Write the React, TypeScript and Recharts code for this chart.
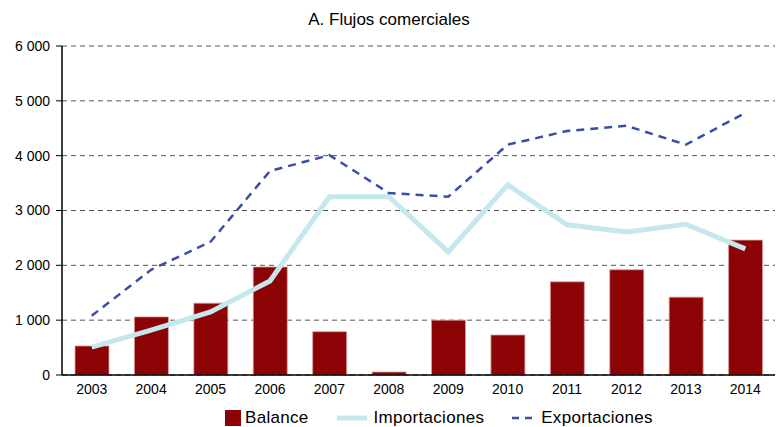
import { ComposedChart, Bar, Line, XAxis, YAxis, CartesianGrid } from 'recharts';

const years = ['2003', '2004', '2005', '2006', '2007', '2008', '2009', '2010', '2011', '2012', '2013', '2014'];
const balance = [530, 1060, 1310, 1970, 790, 55, 1000, 730, 1700, 1920, 1420, 2460];
const importaciones = [510, 820, 1150, 1715, 3250, 3250, 2245, 3470, 2740, 2610, 2750, 2300];
const exportaciones = [1080, 1920, 2430, 3720, 4010, 3320, 3250, 4200, 4450, 4545, 4200, 4780];
const yTicks = [0, 1000, 2000, 3000, 4000, 5000, 6000];

const data = years.map((year, i) => ({
  year,
  balance: balance[i],
  importaciones: importaciones[i],
  exportaciones: exportaciones[i],
}));

const font = '"Liberation Sans", Arial, sans-serif';
const fmt = (v: number) => (v >= 1000 ? `${Math.floor(v / 1000)} ${String(v % 1000).padStart(3, '0')}` : String(v));

export default function App() {
  return (
    <div style={{ position: 'absolute', left: 0, top: 0, width: 778, height: 427, background: '#fff', fontFamily: font }}>
      <div style={{ position: 'absolute', top: 10, left: 0, width: 778, textAlign: 'center', fontSize: 17, color: '#000' }}>
        A. Flujos comerciales
      </div>
      <ComposedChart width={778} height={427} data={data} margin={{ top: 46, right: 3, left: 0, bottom: 22 }}>
        <CartesianGrid vertical={false} stroke="#555" strokeDasharray="5 4" />
        <XAxis
          dataKey="year"
          tickLine={false}
          axisLine={{ stroke: '#000', strokeWidth: 1.5 }}
          tick={{ fill: '#000', fontSize: 14, fontFamily: font }}
          tickMargin={3}
          height={30}
        />
        <YAxis
          domain={[0, 6000]}
          ticks={yTicks}
          tickFormatter={fmt}
          width={62}
          tickSize={6}
          tickMargin={6}
          axisLine={{ stroke: '#000', strokeWidth: 1.5 }}
          tickLine={{ stroke: '#000' }}
          tick={{ fill: '#000', fontSize: 14, fontFamily: font }}
        />
        <Bar dataKey="balance" fill="#8b0304" stroke="#d9a0a0" strokeWidth={0.8} barSize={34} isAnimationActive={false} />
        <Line dataKey="importaciones" type="linear" stroke="#c5e7ee" strokeWidth={5} dot={false} isAnimationActive={false} />
        <Line dataKey="exportaciones" type="linear" stroke="#3a4ea8" strokeWidth={2.5} strokeDasharray="8 6" dot={false} isAnimationActive={false} />
      </ComposedChart>
      <div style={{ position: 'absolute', top: 409, left: 225, display: 'flex', alignItems: 'center', fontSize: 17, lineHeight: '17px', letterSpacing: 0.3, color: '#000', whiteSpace: 'nowrap' }}>
        <span style={{ display: 'inline-block', width: 16, height: 16, background: '#8b0304', marginRight: 4 }} />
        <span style={{ marginRight: 28 }}>Balance</span>
        <svg width={30} height={6} style={{ marginRight: 7 }}>
          <line x1={0} y1={3} x2={30} y2={3} stroke="#c5e7ee" strokeWidth={5} />
        </svg>
        <span style={{ marginRight: 28 }}>Importaciones</span>
        <svg width={20} height={6} style={{ marginRight: 9 }}>
          <line x1={0} y1={3} x2={20} y2={3} stroke="#3a4ea8" strokeWidth={2.5} strokeDasharray="7 6" />
        </svg>
        <span>Exportaciones</span>
      </div>
    </div>
  );
}
